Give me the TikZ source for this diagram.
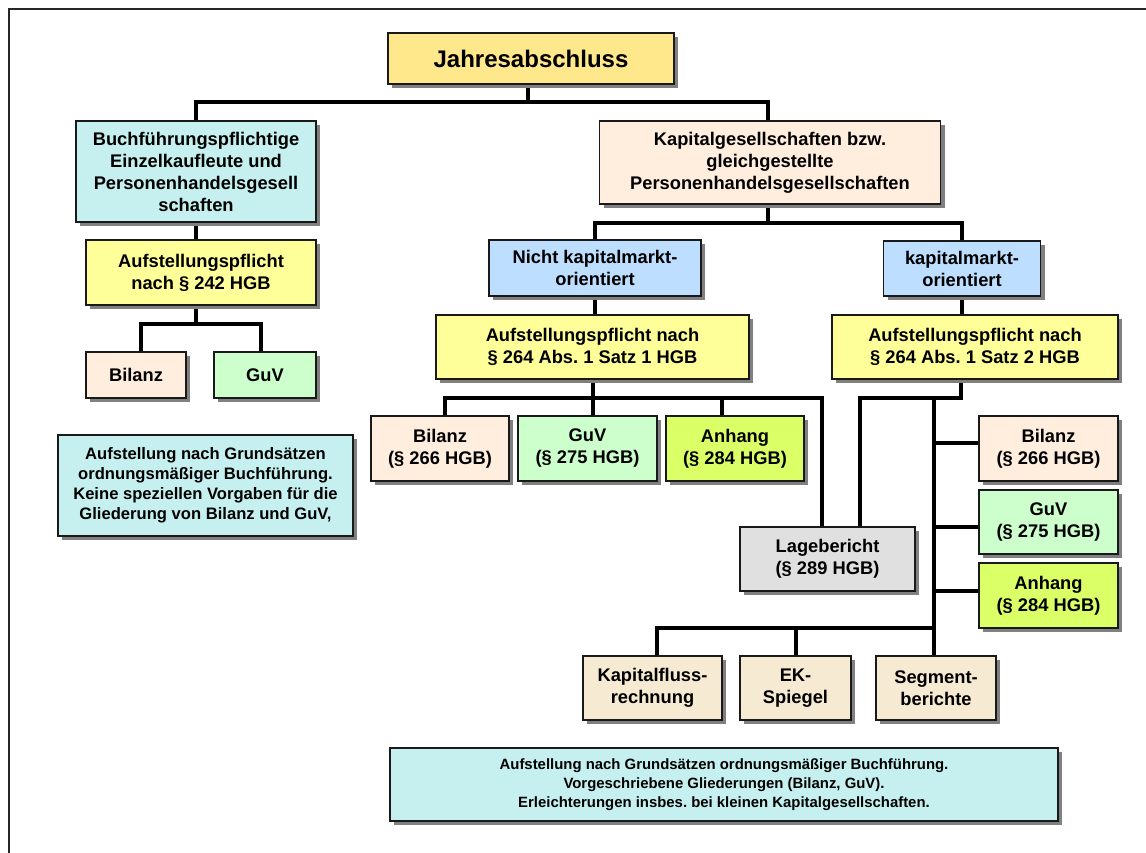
\documentclass[tikz,border=0pt]{standalone}
\usepackage{fontspec}
\setmainfont{Liberation Sans}
\usetikzlibrary{shadows,calc}
\pgfdeclarelayer{back}
\pgfdeclarelayer{bg}
\pgfsetlayers{back,bg,main}
\definecolor{cJahr}{RGB}{255,232,140}
\definecolor{cCyan}{RGB}{198,240,240}
\definecolor{cYel}{RGB}{255,255,153}
\definecolor{cPeach}{RGB}{255,237,222}
\definecolor{cBlue}{RGB}{189,222,255}
\definecolor{cGreen}{RGB}{204,255,204}
\definecolor{cLime}{RGB}{219,255,102}
\definecolor{cGray}{RGB}{224,224,224}
\definecolor{cTan}{RGB}{247,234,210}
\frenchspacing
\begin{document}
\begin{tikzpicture}[x=1pt,y=-1pt,
  box/.style={draw=black!90,line width=1.3pt,align=center,inner sep=0pt,
    font=\bfseries\fontsize{18.3}{22}\selectfont,
    drop shadow={shadow xshift=4pt,shadow yshift=-4pt,fill=black!50,opacity=1}},
  conn/.style={draw=black,line width=4pt,line join=miter,line cap=rect}]
\useasboundingbox (0,0) rectangle (1146,852);
\begin{pgfonlayer}{back}
\fill[white] (0,0) rectangle (1146,852);
\draw[line width=2pt,black!85] (9,860) -- (9,9) -- (1150,9);
\end{pgfonlayer}

% nodes
\node[box,fill=cJahr,minimum width=286pt,minimum height=51pt,font=\bfseries\fontsize{24}{28}\selectfont] (jahr) at (531,58.5) {Jahresabschluss};
\node[box,fill=cCyan,minimum width=240pt,minimum height=101pt] (buch) at (196,171.5) {Buchführungspflichtige\\Einzelkaufleute und\\Personenhandelsgesell\\schaften};
\node[box,fill=cYel,minimum width=230pt,minimum height=65pt] (auf1) at (201,272.5) {Aufstellungspflicht\\nach § 242 HGB};
\node[box,fill=cPeach,minimum width=100pt,minimum height=46pt] (bil1) at (136,375) {Bilanz};
\node[box,fill=cGreen,minimum width=102pt,minimum height=46pt] (guv1) at (265,375) {GuV};
\node[box,fill=cCyan,minimum width=295pt,minimum height=101pt,font=\bfseries\fontsize{16.6}{20}\selectfont] (note1) at (205.5,485.5) {Aufstellung nach Grundsätzen\\ordnungsmäßiger Buchführung.\\Keine speziellen Vorgaben für die\\Gliederung von Bilanz und GuV,};

\node[box,fill=cPeach,minimum width=341pt,minimum height=83pt] (kap) at (770,162.5) {Kapitalgesellschaften bzw.\\gleichgestellte\\Personenhandelsgesellschaften};
\node[box,fill=cBlue,minimum width=212pt,minimum height=56pt] (nk) at (595,268) {Nicht kapitalmarkt-\\orientiert};
\node[box,fill=cBlue,minimum width=157pt,minimum height=55pt] (km) at (962,268.5) {kapitalmarkt-\\orientiert};
\node[box,fill=cYel,minimum width=313pt,minimum height=64pt] (a1) at (592.5,347) {Aufstellungspflicht nach\\§ 264 Abs. 1 Satz 1 HGB};
\node[box,fill=cYel,minimum width=286pt,minimum height=64pt] (a2) at (975,347) {Aufstellungspflicht nach\\§ 264 Abs. 1 Satz 2 HGB};

\node[box,fill=cPeach,minimum width=138pt,minimum height=65pt] (bilm) at (440,448.5) {Bilanz\\(§ 266 HGB)};
\node[box,fill=cGreen,minimum width=139pt,minimum height=65pt] (guvm) at (587.5,448.5) {GuV\\(§ 275 HGB)};
\node[box,fill=cLime,minimum width=138pt,minimum height=65pt] (anhm) at (735,448.5) {Anhang\\(§ 284 HGB)};
\node[box,fill=cGray,minimum width=175pt,minimum height=64pt] (lage) at (827.5,559) {Lagebericht\\(§ 289 HGB)};

\node[box,fill=cPeach,minimum width=139pt,minimum height=65pt] (bilr) at (1048.5,448.5) {Bilanz\\(§ 266 HGB)};
\node[box,fill=cGreen,minimum width=139pt,minimum height=64pt] (guvr) at (1048.5,522) {GuV\\(§ 275 HGB)};
\node[box,fill=cLime,minimum width=139pt,minimum height=65pt] (anhr) at (1048.5,595.5) {Anhang\\(§ 284 HGB)};

\node[box,fill=cTan,minimum width=139pt,minimum height=64pt] (kfr) at (652.5,688) {Kapitalfluss-\\rechnung};
\node[box,fill=cTan,minimum width=111pt,minimum height=64pt] (eks) at (795.5,688) {EK-\\Spiegel};
\node[box,fill=cTan,minimum width=120pt,minimum height=64pt] (seg) at (936,688) {Segment-\\berichte};

\node[box,fill=cCyan,minimum width=668pt,minimum height=73pt,font=\bfseries\fontsize{14.9}{19}\selectfont] (note2) at (724,784.5) {Aufstellung nach Grundsätzen ordnungsmäßiger Buchführung.\\Vorgeschriebene Gliederungen (Bilanz, GuV).\\Erleichterungen insbes. bei kleinen Kapitalgesellschaften.};

% junction coordinates
\coordinate (tb) at (528,102);
\coordinate (kb) at (768,223);
\coordinate (lb) at (196,324);
\coordinate (lbL) at (141,324);
\coordinate (lbR) at (261,324);
\coordinate (mbL) at (445,398);
\coordinate (mbA) at (722,398);
\coordinate (mbR) at (822,398);
\coordinate (rb) at (961,398);
\coordinate (rbL) at (860,398);
\coordinate (sp) at (934,398);
\coordinate (bbL) at (657,628);
\coordinate (bw) at ([yshift=5.5pt]bilr.west);
\coordinate (gw) at ([yshift=-5pt]guvr.west);
\coordinate (aw) at ([yshift=4.5pt]anhr.west);

\begin{pgfonlayer}{bg}
\draw[conn] (tb |- jahr.south) -- (tb);
\draw[conn] (buch.north) |- (tb) -| (kb |- kap.north);
\draw[conn] (kb |- kap.south) -- (kb);
\draw[conn] (nk.north) |- (kb) -| (km.north);
\draw[conn] (buch.south) -- (buch.south |- auf1.north);
\draw[conn] (lb |- auf1.south) -- (lb);
\draw[conn] (lbL |- bil1.north) -- (lbL) -- (lbR) -- (lbR |- guv1.north);
\draw[conn] (nk.south) -- (nk.south |- a1.north);
\draw[conn] (a1.south) -- (a1.south |- guvm.north);
\draw[conn] (mbL |- bilm.north) -- (mbL) -- (mbR) -- (mbR |- lage.north);
\draw[conn] (mbA) -- (mbA |- anhm.north);
\draw[conn] (km.south) -- (km.south |- a2.north);
\draw[conn] (rb |- a2.south) -- (rb) -- (rbL) -- (rbL |- lage.north);
\draw[conn] (sp) -- (sp |- seg.north);
\draw[conn] (bw) -- (sp |- bw);
\draw[conn] (gw) -- (sp |- gw);
\draw[conn] (aw) -- (sp |- aw);
\draw[conn] (sp |- bbL) -- (bbL) -- (bbL |- kfr.north);
\draw[conn] (eks.north) -- (eks.north |- bbL);
\end{pgfonlayer}
\end{tikzpicture}
\end{document}
